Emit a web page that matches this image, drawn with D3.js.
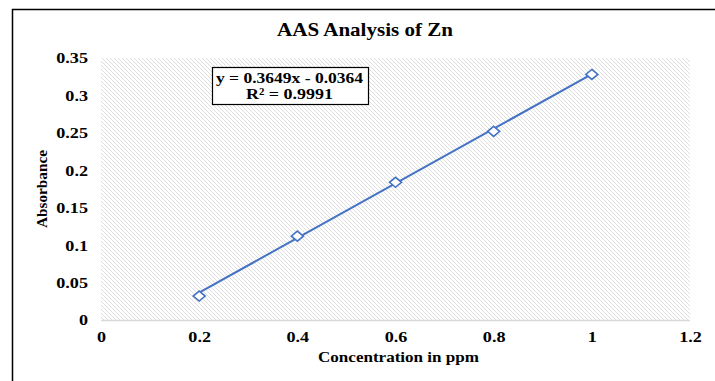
<!DOCTYPE html>
<html>
<head>
<meta charset="utf-8">
<script src="https://cdn.jsdelivr.net/npm/d3@7"></script>
<style>
  body { margin: 0; background: #fff; }
  svg text { font-family: "Liberation Serif", "Times New Roman", serif !important; font-weight: bold; fill: #000; }
</style>
</head>
<body>
<svg id="chart" width="715" height="381"></svg>
<script>
// data
const concentration = [0.2, 0.4, 0.6, 0.8, 1.0];
const absorbance = [0.032, 0.112, 0.184, 0.252, 0.328];
const xTicks = [0, 0.2, 0.4, 0.6, 0.8, 1, 1.2];
const yTicks = [0, 0.05, 0.1, 0.15, 0.2, 0.25, 0.3, 0.35];
const slope = 0.3649, intercept = -0.0364;
const eqLines = ["y = 0.3649x - 0.0364", "R² = 0.9991"];

const svg = d3.select("#chart");
const W = 715, H = 381;
const m = { left: 101, right: 25, top: 58, bottom: 61 };
const stretch = 1.17; // the original text is a bit wide

// outer chart border (clipped on right/bottom in the original)
svg.append("path")
    .attr("d", `M12.5,${H} L12.5,9.5 L${W},9.5`)
    .attr("fill", "none")
    .attr("stroke", "#000")
    .attr("stroke-width", 1.5);

const x = d3.scaleLinear().domain([0, 1.2]).range([m.left, W - m.right]);
const y = d3.scaleLinear().domain([0, 0.35]).range([H - m.bottom, m.top]);

// hatched plot area
const defs = svg.append("defs");
const pat = defs.append("pattern")
    .attr("id", "hatch")
    .attr("patternUnits", "userSpaceOnUse")
    .attr("width", 4).attr("height", 4);
pat.append("rect").attr("width", 4).attr("height", 4).attr("fill", "#fff");
pat.append("path")
    .attr("d", "M-1,-1 L5,5 M-1,3 L1,5 M3,-1 L5,1")
    .attr("stroke", "#dedede")
    .attr("stroke-width", 1);

svg.append("rect")
    .attr("x", x(0)).attr("y", y(0.35))
    .attr("width", x(1.2) - x(0))
    .attr("height", y(0) - y(0.35))
    .attr("fill", "url(#hatch)");

// x axis line
svg.append("line")
    .attr("x1", x(0)).attr("x2", x(1.2))
    .attr("y1", y(0) + 0.5).attr("y2", y(0) + 0.5)
    .attr("stroke", "#d9d9d9").attr("stroke-width", 1.5);

// tick labels
const xAxis = svg.append("g")
    .attr("transform", `translate(0,${y(0)})`)
    .call(d3.axisBottom(x).tickValues(xTicks).tickSize(0).tickPadding(11.5).tickFormat(d3.format("")));
xAxis.select(".domain").remove();
xAxis.attr("font-size", null).attr("font-family", null);
xAxis.selectAll("text").style("font-size", "15.5px").attr("transform", `scale(${stretch},1)`);

const yAxis = svg.append("g")
    .attr("transform", `translate(${x(0) - 13},0)`)
    .call(d3.axisLeft(y).tickValues(yTicks).tickSize(0).tickPadding(0).tickFormat(d3.format("")));
yAxis.select(".domain").remove();
yAxis.attr("font-size", null).attr("font-family", null);
yAxis.selectAll("text").style("font-size", "15.5px").attr("transform", `scale(${stretch},1)`);

// trendline
svg.append("line")
    .attr("x1", x(0.2)).attr("y1", y(slope * 0.2 + intercept))
    .attr("x2", x(1.0)).attr("y2", y(slope * 1.0 + intercept))
    .attr("stroke", "#4472c4").attr("stroke-width", 2);

// markers
const pts = concentration.map((c, i) => [c, absorbance[i]]);
svg.selectAll("path.pt").data(pts).enter().append("path")
    .attr("class", "pt")
    .attr("transform", d => `translate(${x(d[0])},${y(d[1])})`)
    .attr("d", "M0,-5 L6,0 L0,5 L-6,0 Z")
    .attr("fill", "#fff")
    .attr("stroke", "#4472c4")
    .attr("stroke-width", 1.6);

// equation box
svg.append("rect")
    .attr("x", 212.5).attr("y", 67.5)
    .attr("width", 156).attr("height", 37)
    .attr("fill", "#fff").attr("stroke", "#000").attr("stroke-width", 1.2);
const eqLen = [147, 87];
svg.selectAll("text.eq").data(eqLines).enter().append("text")
    .attr("class", "eq")
    .attr("x", 289.5)
    .attr("y", (d, i) => 82.5 + i * 16)
    .attr("text-anchor", "middle")
    .attr("textLength", (d, i) => eqLen[i])
    .attr("lengthAdjust", "spacingAndGlyphs")
    .style("font-size", "15.5px")
    .text(d => d);

// titles
svg.append("text")
    .attr("x", 365).attr("y", 36)
    .attr("text-anchor", "middle")
    .attr("textLength", 176)
    .attr("lengthAdjust", "spacingAndGlyphs")
    .style("font-size", "19.5px")
    .text("AAS Analysis of Zn");

svg.append("text")
    .attr("x", 398.5).attr("y", 362)
    .attr("text-anchor", "middle")
    .attr("textLength", 161)
    .attr("lengthAdjust", "spacingAndGlyphs")
    .style("font-size", "15.5px")
    .text("Concentration in ppm");

svg.append("text")
    .attr("transform", `translate(47,189) rotate(-90)`)
    .attr("text-anchor", "middle")
    .attr("textLength", 78)
    .attr("lengthAdjust", "spacingAndGlyphs")
    .style("font-size", "14px")
    .text("Absorbance");
</script>
</body>
</html>
